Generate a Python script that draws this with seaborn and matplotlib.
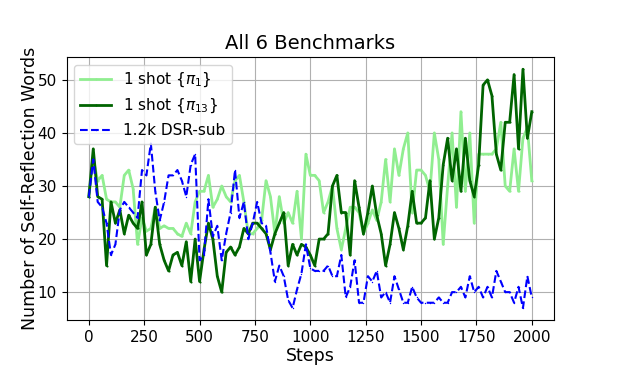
import numpy as np
import pandas as pd
import matplotlib
matplotlib.use("Agg")
import matplotlib.pyplot as plt
import seaborn as sns

steps = list(range(0, 2001, 20))

pi1 = [28, 35, 31, 32, 27.5, 27, 27, 26, 32, 33,
       29.5, 19, 24, 21.5, 22, 26, 22, 22.5, 22, 22,
       21, 20.5, 23, 21, 27, 29, 29, 32, 26, 27.5,
       30, 28, 27, 31, 32, 27, 21, 21, 22, 23.5,
       31, 28, 21, 28, 23, 25, 23, 29, 20, 36,
       32, 32, 31, 25, 27, 30, 22, 18, 22, 26,
       26, 25, 21, 23, 25.5, 23.5, 27, 35, 27, 37,
       32, 37, 40, 25, 33, 33, 32, 29, 40, 35,
       19, 30, 40, 26, 44, 29, 40, 23, 36, 36,
       36, 36, 37, 42, 30, 29, 37, 29, 39, 41,
       31]

pi13 = [28, 37, 28, 27.5, 15, 27, 23, 25.5, 21, 24.5,
        23, 22, 27, 17, 19, 26, 19, 16, 14, 17,
        17.5, 15, 19.5, 12, 20, 12, 18, 23, 20, 13,
        10, 17.5, 18.5, 17, 18.5, 22, 21, 23, 23, 22,
        21, 18, 21, 23, 25, 15, 19, 17, 19, 18.5,
        17, 15, 20, 20, 21, 30, 32, 25, 25, 17,
        31, 26, 21, 25, 30, 24.5, 21, 15, 19, 25,
        22, 18, 22.5, 29, 23, 23, 24, 31, 20, 24,
        34, 39, 31, 37, 29, 39, 31, 28, 34, 49,
        50, 47, 36, 33, 42, 42, 51, 37, 52, 39,
        44]

dsr = [28, 35, 27, 26, 23, 17, 19, 25.5, 27, 26,
       25, 24, 33, 32, 38, 29, 23.5, 27, 32, 32,
       33, 31, 28, 34, 36, 16, 17, 27.5, 20.5, 22.5,
       16, 21, 25, 33, 24, 27, 20, 23, 27, 23,
       22.5, 17.5, 12, 15, 13, 8.5, 7, 10.5, 13.5, 19,
       14.5, 14, 14, 14, 15, 13, 13, 17, 9, 11,
       16, 8, 8, 13, 12, 14, 9, 10, 8, 13,
       10.5, 8, 8, 11, 9, 8, 8, 8, 8, 9,
       8, 8, 10, 10, 11, 9, 13, 10, 11, 9,
       11, 9, 14, 12, 10, 10, 8, 11, 7, 13,
       9]

labels = ["1 shot {$\\pi_1$}", "1 shot {$\\pi_{13}$}", "1.2k DSR-sub"]

df = pd.DataFrame({"Steps": steps, "pi1": pi1, "pi13": pi13, "dsr": dsr})

plt.rcParams["font.family"] = ["DejaVu Sans"]
fig = plt.figure(figsize=(6.32, 3.86), dpi=100)
ax = fig.add_axes([0.1055, 0.171, 0.771, 0.6806])

sns.lineplot(data=df, x="Steps", y="pi1", ax=ax, color="lightgreen",
             linewidth=2, marker=".", markersize=3, markeredgewidth=0,
             label=labels[0])
sns.lineplot(data=df, x="Steps", y="pi13", ax=ax, color="darkgreen",
             linewidth=2, marker=".", markersize=3, markeredgewidth=0,
             label=labels[1])
sns.lineplot(data=df, x="Steps", y="dsr", ax=ax, color="blue",
             linewidth=1.5, linestyle="--", marker=".", markersize=2,
             markeredgewidth=0, label=labels[2])

ax.set_xticks([0, 250, 500, 750, 1000, 1250, 1500, 1750, 2000])
ax.set_yticks([10, 20, 30, 40, 50])
ax.grid(True, color="#b0b0b0", linewidth=0.8)
ax.set_axisbelow(True)
ax.tick_params(labelsize=11)
ax.set_title("All 6 Benchmarks", fontsize=14)
ax.set_xlabel("Steps", fontsize=12.5, labelpad=2)
ax.set_ylabel("Number of Self-Reflection Words", fontsize=12.5, labelpad=-1)
ax.legend(loc="upper left", fontsize=11)

fig.savefig("out.png", dpi=100)
